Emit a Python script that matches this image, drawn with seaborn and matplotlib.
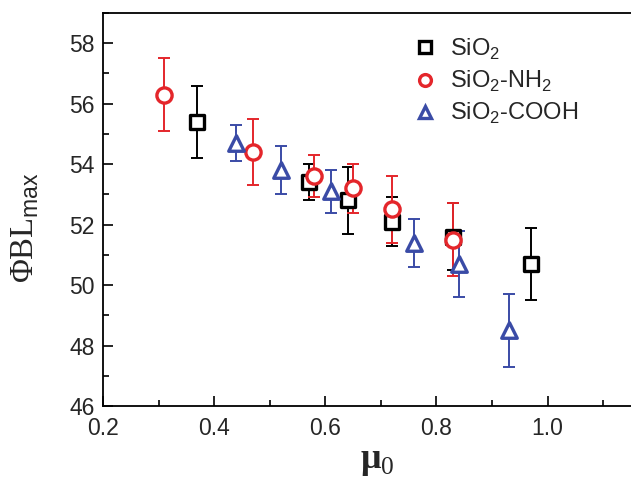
import pandas as pd
import matplotlib.pyplot as plt
import seaborn as sns
from matplotlib.lines import Line2D
from matplotlib.ticker import MultipleLocator

# Data
sio2_x = [0.37, 0.57, 0.64, 0.72, 0.83, 0.97]
sio2_y = [55.4, 53.4, 52.8, 52.1, 51.6, 50.7]
sio2_err = [1.2, 0.6, 1.1, 0.8, 1.1, 1.2]

nh2_x = [0.31, 0.47, 0.58, 0.65, 0.72, 0.83]
nh2_y = [56.3, 54.4, 53.6, 53.2, 52.5, 51.5]
nh2_err = [1.2, 1.1, 0.7, 0.8, 1.1, 1.2]

cooh_x = [0.44, 0.52, 0.61, 0.76, 0.84, 0.93]
cooh_y = [54.7, 53.8, 53.1, 51.4, 50.7, 48.5]
cooh_err = [0.6, 0.8, 0.7, 0.8, 1.1, 1.2]

labels = ['SiO$_2$', 'SiO$_2$-NH$_2$', 'SiO$_2$-COOH']
colors = ['black', '#e4262b', '#3a4ba6']
markers = ['s', 'o', '^']
sizes = [90, 120, 125]

df = pd.concat([
    pd.DataFrame({'mu0': sio2_x, 'phi': sio2_y, 'err': sio2_err, 'sample': labels[0]}),
    pd.DataFrame({'mu0': nh2_x, 'phi': nh2_y, 'err': nh2_err, 'sample': labels[1]}),
    pd.DataFrame({'mu0': cooh_x, 'phi': cooh_y, 'err': cooh_err, 'sample': labels[2]}),
])

sns.set_style("ticks")
plt.rcParams['font.family'] = ['Liberation Sans', 'DejaVu Sans']
plt.rcParams['mathtext.fontset'] = 'custom'
plt.rcParams['mathtext.rm'] = 'Liberation Sans'
plt.rcParams['mathtext.sf'] = 'Liberation Serif'

fig = plt.figure(figsize=(6.31, 4.79), dpi=100)
ax = fig.add_axes([0.1632, 0.1524, 0.8368, 0.8205])

for lab, col, mk, sz in zip(labels, colors, markers, sizes):
    sub = df[df['sample'] == lab]
    ax.errorbar(sub['mu0'], sub['phi'], yerr=sub['err'], fmt='none',
                ecolor=col, elinewidth=1.4, capsize=4.5, capthick=1.4, zorder=2)
    sns.scatterplot(data=sub, x='mu0', y='phi', ax=ax, marker=mk, s=sz,
                    color='white', edgecolor=col, linewidth=2.4, zorder=3,
                    legend=False)

ax.set_xlim(0.2, 1.15)
ax.set_ylim(46, 59)
ax.set_xticks([0.2, 0.4, 0.6, 0.8, 1.0])
ax.set_yticks([46, 48, 50, 52, 54, 56, 58])
ax.xaxis.set_minor_locator(MultipleLocator(0.1))
ax.yaxis.set_minor_locator(MultipleLocator(1))
ax.tick_params(which='both', direction='in', top=False, right=False,
               labelsize=16.5, width=1.2, color='black')
ax.tick_params(which='major', length=7)
ax.tick_params(which='minor', length=4)
ax.tick_params(axis='x', pad=8)
ax.tick_params(axis='y', pad=6)
for s in ['left', 'bottom', 'top']:
    ax.spines[s].set_linewidth(1.3)
    ax.spines[s].set_color('black')
ax.spines['right'].set_visible(False)

ax.set_xlabel('μ$_{\\mathsf{0}}$', fontsize=26, family='Liberation Serif', fontweight='bold')
ax.xaxis.set_label_coords(0.52, -0.1)
ax.set_ylabel('ΦBL$_{\\mathrm{max}}$', fontsize=23.5, family='Liberation Serif')
ax.yaxis.set_label_coords(-0.117, 0.453)

handles = [Line2D([], [], linestyle='none', marker=mk, markersize=8.5,
                  markerfacecolor='white', markeredgecolor=col, markeredgewidth=2.4)
           for col, mk in zip(colors, markers)]
ax.legend(handles, labels, loc='upper left', bbox_to_anchor=(0.587, 0.94),
          frameon=False, fontsize=17, handletextpad=0.55, labelspacing=0.3,
          handlelength=1.0, borderpad=0, borderaxespad=0)

plt.savefig('out.png', dpi=100)
